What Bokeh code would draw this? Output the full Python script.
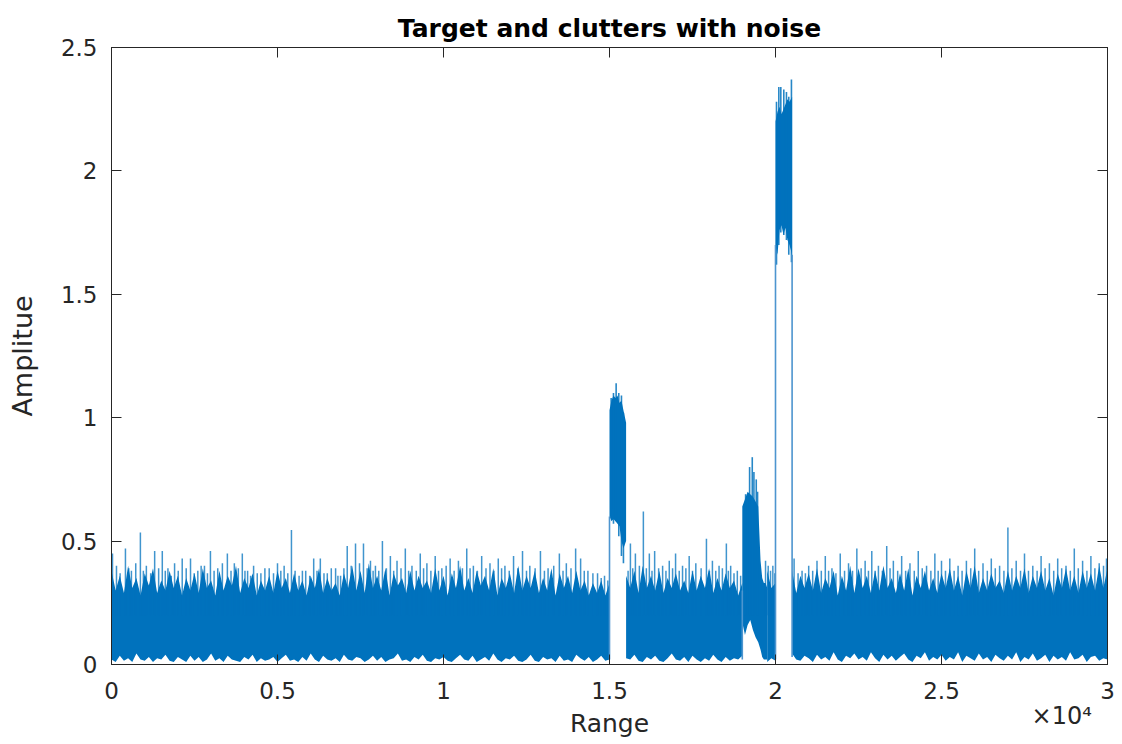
import numpy as np
from bokeh.plotting import figure
from bokeh.models import Range1d, LinearAxis, FixedTicker
from bokeh.embed import file_html
from bokeh.resources import INLINE

BLUE = "#0072BD"
INK = "#262626"

# ---- background noise envelope, sampled every 125 range cells ----
bg_x = np.arange(0, 30001, 125)
bg_top = [
    0.38, 0.30, 0.36, 0.29, 0.40, 0.31, 0.35, 0.28, 0.37, 0.32, 0.39, 0.29, 0.34, 0.30, 0.38, 0.31, 0.36, 0.28, 0.35, 0.30,
    0.37, 0.29, 0.39, 0.31, 0.34, 0.28, 0.38, 0.30, 0.36, 0.32, 0.40, 0.29, 0.35, 0.31, 0.37, 0.28, 0.34, 0.30, 0.36, 0.29,
    0.38, 0.31, 0.35, 0.29, 0.37, 0.30, 0.34, 0.28, 0.36, 0.31, 0.39, 0.29, 0.35, 0.30, 0.33, 0.28, 0.37, 0.31, 0.40, 0.30,
    0.38, 0.29, 0.41, 0.31, 0.36, 0.30, 0.39, 0.28, 0.37, 0.32, 0.35, 0.29, 0.38, 0.30, 0.36, 0.31, 0.34, 0.29, 0.39, 0.30,
    0.36, 0.28, 0.37, 0.31, 0.40, 0.30, 0.35, 0.29, 0.38, 0.32, 0.36, 0.30, 0.39, 0.28, 0.35, 0.31, 0.37, 0.29, 0.40, 0.30,
    0.36, 0.31, 0.38, 0.29, 0.35, 0.30, 0.39, 0.28, 0.37, 0.31, 0.36, 0.29, 0.38, 0.30, 0.34, 0.28, 0.33, 0.29, 0.34, 0.28,
    0.33, 0.30, 0.35, 0.29, 0.36, 0.31, 0.38, 0.29, 0.40, 0.31, 0.36, 0.30, 0.38, 0.29, 0.35, 0.31, 0.37, 0.30, 0.34, 0.29,
    0.38, 0.30, 0.36, 0.31, 0.39, 0.29, 0.35, 0.30, 0.37, 0.31, 0.34, 0.28, 0.33, 0.30, 0.32, 0.30, 0.31, 0.30, 0.38, 0.31,
    0.33, 0.30, 0.31, 0.30, 0.38, 0.29, 0.36, 0.31, 0.37, 0.30, 0.39, 0.29, 0.35, 0.31, 0.38, 0.28, 0.36, 0.30, 0.40, 0.29,
    0.39, 0.31, 0.36, 0.29, 0.38, 0.30, 0.40, 0.31, 0.35, 0.29, 0.37, 0.30, 0.39, 0.28, 0.36, 0.31, 0.38, 0.30, 0.35, 0.29,
    0.37, 0.31, 0.39, 0.30, 0.36, 0.28, 0.38, 0.31, 0.40, 0.29, 0.35, 0.30, 0.37, 0.31, 0.34, 0.29, 0.38, 0.30, 0.36, 0.31,
    0.39, 0.29, 0.36, 0.31, 0.38, 0.30, 0.35, 0.28, 0.37, 0.31, 0.39, 0.30, 0.36, 0.29, 0.38, 0.31, 0.37, 0.30, 0.40, 0.31,
    0.39,
]
bg_floor = [
    0.02, 0.01, 0.035, 0.015, 0.025, 0.01, 0.045, 0.02, 0.015, 0.03, 0.01, 0.025, 0.02, 0.04, 0.015, 0.01, 0.03, 0.02, 0.01, 0.035,
    0.015, 0.03, 0.01, 0.02, 0.045, 0.015, 0.025, 0.01, 0.035, 0.02, 0.015, 0.01, 0.03, 0.02, 0.04, 0.01, 0.025, 0.015, 0.02, 0.03,
    0.01, 0.025, 0.04, 0.015, 0.02, 0.01, 0.03, 0.015, 0.045, 0.02, 0.01, 0.035, 0.02, 0.015, 0.025, 0.01, 0.04, 0.02, 0.015, 0.03,
    0.025, 0.01, 0.02, 0.035, 0.015, 0.03, 0.01, 0.02, 0.025, 0.045, 0.015, 0.02, 0.01, 0.03, 0.02, 0.04, 0.015, 0.01, 0.025, 0.02,
    0.03, 0.015, 0.01, 0.025, 0.04, 0.02, 0.015, 0.035, 0.01, 0.02, 0.03, 0.015, 0.045, 0.02, 0.01, 0.025, 0.02, 0.035, 0.015, 0.01,
    0.02, 0.04, 0.015, 0.01, 0.03, 0.02, 0.025, 0.01, 0.035, 0.015, 0.02, 0.01, 0.04, 0.025, 0.015, 0.03, 0.01, 0.02, 0.035, 0.015,
    0.02, 0.015, 0.03, 0.01, 0.025, 0.02, 0.04, 0.015, 0.01, 0.03, 0.02, 0.035, 0.015, 0.01, 0.025, 0.045, 0.02, 0.015, 0.03, 0.01,
    0.035, 0.02, 0.01, 0.025, 0.015, 0.04, 0.02, 0.01, 0.03, 0.015, 0.025, 0.02, 0.035, 0.01, 0.02, 0.015, 0.03, 0.02, 0.01, 0.025,
    0.015, 0.02, 0.03, 0.01, 0.045, 0.02, 0.015, 0.035, 0.025, 0.01, 0.04, 0.02, 0.03, 0.015, 0.05, 0.02, 0.01, 0.035, 0.025, 0.045,
    0.02, 0.03, 0.015, 0.05, 0.025, 0.01, 0.04, 0.02, 0.035, 0.015, 0.03, 0.045, 0.02, 0.01, 0.035, 0.025, 0.05, 0.015, 0.03, 0.02,
    0.04, 0.015, 0.03, 0.02, 0.05, 0.01, 0.035, 0.025, 0.015, 0.045, 0.02, 0.03, 0.01, 0.04, 0.025, 0.015, 0.035, 0.02, 0.05, 0.01,
    0.03, 0.02, 0.045, 0.015, 0.025, 0.04, 0.01, 0.035, 0.02, 0.03, 0.015, 0.05, 0.02, 0.025, 0.04, 0.01, 0.03, 0.035, 0.015, 0.025,
    0.02,
]
# stretches of range that hold only noise
quiet_spans = [(0, 15000), (15500, 19000), (19750, 20000), (20500, 30000)]

# isolated noise peaks above the dense band
bg_spike_x = [
    30, 150, 260, 420, 520, 600, 730, 870, 960, 1050, 1180, 1300, 1420, 1530, 1620, 1700,
    1800, 1900, 2010, 2130, 2250, 2380, 2490, 2600, 2700, 2800, 2890, 2980, 3090, 3200,
    3340, 3490, 3600, 3700, 3820, 3940, 4020, 4100, 4190, 4280, 4390, 4500, 4620, 4750,
    4880, 5000, 5100, 5200, 5310, 5420, 5530, 5650, 5750, 5850, 5970, 6090, 6190, 6290,
    6400, 6500, 6620, 6750, 6820, 6900, 7000, 7100, 7220, 7350, 7470, 7590, 7700, 7800,
    7880, 7950, 8050, 8160, 8280, 8400, 8500, 8600, 8720, 8850, 8950, 9050, 9180, 9300,
    9400, 9500, 9620, 9750, 9850, 9950, 10080, 10200, 10320, 10450, 10570, 10700, 10800,
    10900, 11020, 11150, 11280, 11400, 11520, 11650, 11750, 11850, 11980, 12110, 12240,
    12380, 12500, 12600, 12760, 12920, 13040, 13150, 13320, 13490, 13600, 13700, 13840,
    13980, 14130, 14240, 14350, 14500, 14640, 14750, 14850, 14950,
    15560, 15630, 15700, 15780, 15900, 16020, 16110, 16200, 16280, 16360, 16480, 16600,
    16700, 16800, 16900, 16990, 17100, 17200, 17300, 17400, 17500, 17600, 17760, 17920,
    18010, 18100, 18200, 18300, 18400, 18520, 18580, 18650, 18750, 18850, 18950,
    19700, 19780, 19850, 19920, 19980,
    20560, 20680, 20800, 20900, 21000, 21120, 21250, 21380, 21500, 21600, 21700, 21820,
    21950, 22080, 22200, 22320, 22450, 22580, 22700, 22800, 22900, 23000, 23100, 23220,
    23350, 23450, 23550, 23680, 23800, 23920, 24050, 24180, 24300, 24420, 24550, 24680,
    24800, 24900, 25000, 25120, 25250, 25380, 25500, 25620, 25750, 25880, 26000, 26120,
    26250, 26380, 26500, 26620, 26750, 26880, 27000, 27120, 27250, 27380, 27500, 27620,
    27750, 27880, 28000, 28120, 28250, 28380, 28500, 28620, 28750, 28880, 29000, 29120,
    29250, 29380, 29500, 29620, 29750, 29880, 29970,
]
bg_spike_y = [
    0.45, 0.40, 0.37, 0.47, 0.39, 0.38, 0.41, 0.535, 0.38, 0.40, 0.37, 0.46, 0.39, 0.46, 0.38, 0.39,
    0.36, 0.41, 0.38, 0.43, 0.39, 0.43, 0.37, 0.38, 0.40, 0.40, 0.37, 0.46, 0.38, 0.39,
    0.41, 0.45, 0.38, 0.41, 0.39, 0.45, 0.38, 0.38, 0.36, 0.40, 0.37, 0.37, 0.39, 0.39,
    0.37, 0.41, 0.38, 0.40, 0.37, 0.545, 0.38, 0.36, 0.38, 0.38, 0.36, 0.43, 0.38, 0.43,
    0.37, 0.37, 0.39, 0.39, 0.36, 0.36, 0.39, 0.48, 0.40, 0.49, 0.41, 0.49, 0.39, 0.42,
    0.38, 0.40, 0.38, 0.50, 0.39, 0.44, 0.38, 0.42, 0.39, 0.47, 0.38, 0.40, 0.38, 0.45,
    0.39, 0.41, 0.38, 0.44, 0.38, 0.39, 0.40, 0.43, 0.38, 0.42, 0.39, 0.47, 0.39,
    0.40, 0.38, 0.44, 0.39, 0.41, 0.38, 0.43, 0.39, 0.40, 0.38, 0.44, 0.39,
    0.46, 0.38, 0.40, 0.39, 0.46, 0.38, 0.39, 0.40, 0.45, 0.38, 0.41, 0.39,
    0.47, 0.43, 0.38, 0.38, 0.37, 0.37, 0.35, 0.36, 0.34,
    0.38, 0.49, 0.39, 0.45, 0.40, 0.62, 0.39, 0.45, 0.38, 0.46, 0.39, 0.40,
    0.38, 0.42, 0.39, 0.45, 0.38, 0.40, 0.39, 0.44, 0.38, 0.41, 0.39, 0.51,
    0.38, 0.42, 0.38, 0.40, 0.39, 0.49, 0.38, 0.40, 0.37, 0.38, 0.36,
    0.42, 0.40, 0.38, 0.40, 0.37,
    0.43, 0.37, 0.38, 0.37, 0.40, 0.38, 0.42, 0.38, 0.44, 0.38, 0.39, 0.37,
    0.45, 0.38, 0.41, 0.38, 0.47, 0.39, 0.42, 0.38, 0.46, 0.38, 0.40, 0.38,
    0.48, 0.39, 0.42, 0.38, 0.44, 0.38, 0.41, 0.38, 0.46, 0.39, 0.40, 0.38,
    0.45, 0.38, 0.42, 0.38, 0.43, 0.38, 0.40, 0.38, 0.42, 0.39, 0.47, 0.38,
    0.41, 0.38, 0.43, 0.39, 0.40, 0.38, 0.555, 0.39, 0.42, 0.38, 0.45, 0.38,
    0.40, 0.38, 0.44, 0.39, 0.41, 0.38, 0.43, 0.39, 0.40, 0.38, 0.47, 0.39,
    0.42, 0.38, 0.44, 0.39, 0.41, 0.40, 0.43,
]

# ---- returns: first clutter, second clutter, target ----
clutter1_x = [15000, 15060, 15120, 15180, 15240, 15300, 15360, 15420, 15500]
clutter1_hi = [1.03, 1.07, 1.09, 1.08, 1.09, 1.06, 1.07, 1.03, 0.98]
clutter1_lo = [0.60, 0.58, 0.59, 0.58, 0.57, 0.56, 0.50, 0.47, 0.50]

clutter2_x = [19000, 19080, 19160, 19240, 19320, 19400, 19480, 19550, 19600, 19650, 19700, 19750]
clutter2_hi = [0.64, 0.67, 0.70, 0.69, 0.68, 0.66, 0.64, 0.42, 0.35, 0.33, 0.33, 0.31]
clutter2_lo = [0.17, 0.12, 0.16, 0.18, 0.14, 0.11, 0.09, 0.06, 0.03, 0.02, 0.02, 0.02]

target_x = [20000, 20060, 20120, 20180, 20240, 20300, 20360, 20420, 20500]
target_hi = [2.20, 2.24, 2.26, 2.23, 2.25, 2.27, 2.29, 2.28, 2.30]
target_lo = [1.70, 1.66, 1.76, 1.78, 1.74, 1.77, 1.72, 1.70, 1.66]

# individual excursions inside the returns
ret_spike_x = [15050, 15120, 15200, 15280, 15360, 15420,
               19100, 19220, 19300, 19350, 19420, 19460,
               20030, 20100, 20160, 20250, 20330, 20400, 20480]
ret_spike_lo = [0.60, 0.57, 0.58, 0.52, 0.44, 0.41,
                0.20, 0.20, 0.20, 0.20, 0.20, 0.20,
                1.62, 1.70, 1.75, 1.74, 1.72, 1.66, 1.63]
ret_spike_hi = [1.08, 1.10, 1.14, 1.10, 1.09, 1.02,
                0.69, 0.80, 0.84, 0.78, 0.75, 0.70,
                2.28, 2.34, 2.34, 2.33, 2.32, 2.30, 2.37]

# jumps of the trace at the edges of the returns
edge_x = [15000, 19000, 20000, 20500]
edge_lo = [0.02, 0.02, 0.02, 0.03]
edge_hi = [0.60, 0.30, 1.70, 1.66]

x_ticks = [0, 5000, 10000, 15000, 20000, 25000, 30000]
x_tick_labels = ["0", "0.5", "1", "1.5", "2", "2.5", "3"]
y_ticks = [0, 0.5, 1, 1.5, 2, 2.5]
y_tick_labels = ["0", "0.5", "1", "1.5", "2", "2.5"]
x_scale_text = "\u00d710\u2074"
x_scale_at = 28620

p = figure(width=1122, height=744, x_range=Range1d(0, 30000), y_range=Range1d(0, 2.5),
           output_backend="svg", toolbar_location=None,
           min_border_left=111, min_border_right=15, min_border_top=47, min_border_bottom=80,
           background_fill_color="white", border_fill_color="white")
p.grid.visible = False
p.outline_line_color = INK
p.outline_line_width = 1

FONT = "DejaVu Sans"

p.title.text = "Target and clutters with noise"
p.title.align = "center"
p.title.text_font = FONT
p.title.text_font_style = "bold"
p.title.text_font_size = "25px"
p.title.text_color = "black"
p.title.standoff = 10

# dense noise band
bx = np.asarray(bg_x)
btop = np.asarray(bg_top)
bfloor = np.asarray(bg_floor)
for start, stop in quiet_spans:
    m = (bx >= start) & (bx <= stop)
    p.varea(x=bx[m], y1=bfloor[m], y2=btop[m], fill_color=BLUE)

for xs, lo, hi in [(clutter1_x, clutter1_lo, clutter1_hi),
                   (clutter2_x, clutter2_lo, clutter2_hi),
                   (target_x, target_lo, target_hi)]:
    p.varea(x=xs, y1=lo, y2=hi, fill_color=BLUE)

p.segment(x0=bg_spike_x, y0=[0.2] * len(bg_spike_x), x1=bg_spike_x, y1=bg_spike_y,
          line_color=BLUE, line_width=1.5, line_alpha=0.75)
p.segment(x0=ret_spike_x, y0=ret_spike_lo, x1=ret_spike_x, y1=ret_spike_hi,
          line_color=BLUE, line_width=1.6, line_alpha=0.85)
p.segment(x0=edge_x, y0=edge_lo, x1=edge_x, y1=edge_hi,
          line_color="#4d95cf", line_width=1.6)

xa = p.xaxis[0]
xa.ticker = FixedTicker(ticks=x_ticks)
xa.major_label_overrides = dict(zip(x_ticks, x_tick_labels))
ya = p.yaxis[0]
ya.ticker = FixedTicker(ticks=y_ticks)
ya.major_label_overrides = dict(zip(y_ticks, y_tick_labels))

for ax in (xa, ya):
    ax.axis_line_color = INK
    ax.major_tick_line_color = INK
    ax.major_tick_in = 10
    ax.major_tick_out = 0
    ax.minor_tick_line_color = None
    ax.major_label_text_font = FONT
    ax.major_label_text_font_size = "23px"
    ax.major_label_text_color = INK
    ax.axis_label_text_font = FONT
    ax.axis_label_text_font_style = "normal"
    ax.axis_label_text_color = INK

xa.major_label_standoff = 17
ya.major_label_standoff = 14
ya.axis_label = "Amplitue"
ya.axis_label_text_font_size = "27px"
ya.axis_label_standoff = 20

# second bottom axis: exponent of the range ticks and the axis title
xb = LinearAxis(ticker=FixedTicker(ticks=[x_scale_at]))
xb.major_label_overrides = {x_scale_at: x_scale_text}
xb.axis_line_color = None
xb.major_tick_line_color = None
xb.minor_tick_line_color = None
xb.major_tick_in = 0
xb.major_tick_out = 0
xb.major_label_text_font = FONT
xb.major_label_text_font_size = "24px"
xb.major_label_text_color = INK
xb.major_label_standoff = 0
xb.axis_label = "Range"
xb.axis_label_text_font = FONT
xb.axis_label_text_font_style = "normal"
xb.axis_label_text_font_size = "25px"
xb.axis_label_text_color = INK
xb.axis_label_standoff = -24
p.add_layout(xb, "below")

# box ticks on the opposite sides
for ticks, side in ((x_ticks, "above"), (y_ticks, "right")):
    ax = LinearAxis(ticker=FixedTicker(ticks=ticks))
    ax.axis_line_color = INK
    ax.major_tick_line_color = INK
    ax.major_tick_in = 10
    ax.major_tick_out = 0
    ax.minor_tick_line_color = None
    ax.major_label_text_font_size = "0px"
    ax.major_label_text_color = None
    ax.major_label_standoff = 0
    p.add_layout(ax, side)

open("out.html", "w").write(file_html(p, INLINE))
